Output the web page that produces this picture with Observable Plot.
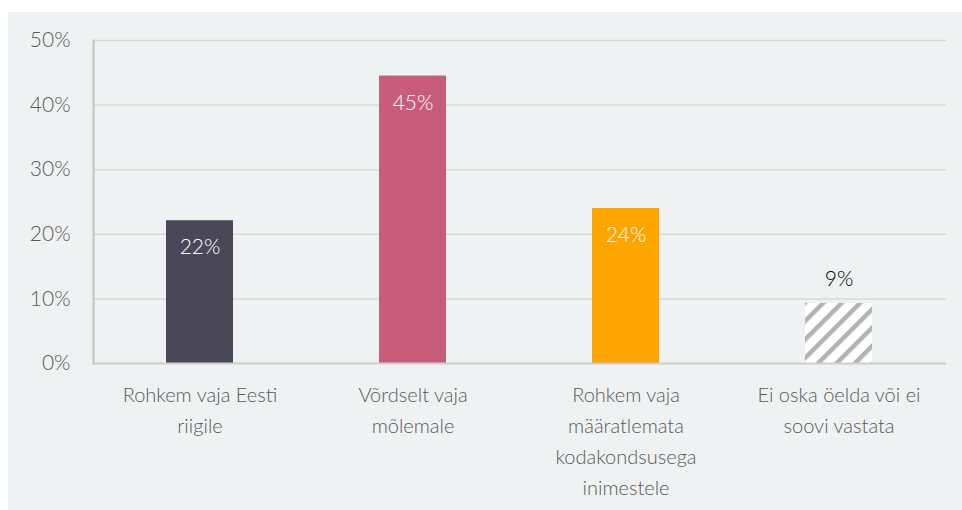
<!DOCTYPE html>
<html>
<head>
<meta charset="utf-8">
<script src="https://cdn.jsdelivr.net/npm/d3@7"></script>
<script src="https://cdn.jsdelivr.net/npm/@observablehq/plot@0.6"></script>
<style>
  html, body { margin: 0; padding: 0; background: #ffffff; }
  #wrap { position: absolute; left: 8px; top: 12px; width: 954px; height: 498px; background: #eff2f3; }
  svg { font-family: Lato, "Noto Sans", sans-serif; font-weight: 300; }
</style>
</head>
<body>
<div id="wrap"></div>
<script>
const categories = [
  "Rohkem vaja Eesti\nriigile",
  "Võrdselt vaja\nmõlemale",
  "Rohkem vaja\nmääratlemata\nkodakondsusega\ninimestele",
  "Ei oska öelda või ei\nsoovi vastata"
];
const values = [22.1, 44.5, 24.0, 9.3];
const valueLabels = ["22%", "45%", "24%", "9%"];
const barColors = ["#4a4858", "#c85c7b", "#ffa500", "url(#hatch)"];
const labelColors = ["#ffffff", "#ffffff", "#ffffff", "#000000"];
const labelInside = [true, true, true, false];
const yTicks = [0, 10, 20, 30, 40, 50];

const data = categories.map((c, i) => ({
  cat: c, value: values[i], label: valueLabels[i],
  fill: barColors[i], textColor: labelColors[i], inside: labelInside[i]
}));

const defs = () => {
  const d = d3.create("svg:defs");
  const p = d.append("pattern")
    .attr("id", "hatch")
    .attr("patternUnits", "userSpaceOnUse")
    .attr("width", 13)
    .attr("height", 13)
    .attr("patternTransform", "rotate(45)");
  p.append("rect").attr("width", 13).attr("height", 13).attr("fill", "#ffffff");
  p.append("rect").attr("width", 4.5).attr("height", 13).attr("fill", "#b3b3b3");
  return d.node();
};

const chart = Plot.plot({
  width: 954,
  height: 498,
  marginTop: 28,
  marginRight: 16,
  marginBottom: 147,
  marginLeft: 85,
  style: { background: "transparent", color: "#595959" },
  x: { domain: categories, paddingInner: 0.685, paddingOuter: 0.3425, label: null },
  y: { domain: [0, 50], label: null },
  color: { type: "identity" },
  marks: [
    defs,
    Plot.gridY(yTicks, { stroke: "#d9d9d9", strokeOpacity: 1, strokeWidth: 1.5 }),
    Plot.axisY(yTicks, {
      tickSize: 0, tickPadding: 23, fontSize: 21, fill: "#595959",
      tickFormat: d => d + "%", label: null
    }),
    Plot.axisX({
      tickSize: 0, tickPadding: 16, fontSize: 20, fill: "#595959",
      lineHeight: 1.55, label: null
    }),
    Plot.barY(data, { x: "cat", y: "value", fill: "fill" }),
    Plot.ruleY([0], { stroke: "#cfcfcf", strokeWidth: 2 }),
    Plot.frame({ anchor: "left", stroke: "#c4c4c4", strokeWidth: 2 }),
    Plot.text(data.filter(d => d.inside), {
      x: "cat", y: "value", text: "label", fill: "textColor",
      dy: 27, fontSize: 21
    }),
    Plot.text(data.filter(d => !d.inside), {
      x: "cat", y: "value", text: "label", fill: "textColor",
      dy: -24, fontSize: 21
    })
  ]
});

document.getElementById("wrap").appendChild(chart);
</script>
</body>
</html>
